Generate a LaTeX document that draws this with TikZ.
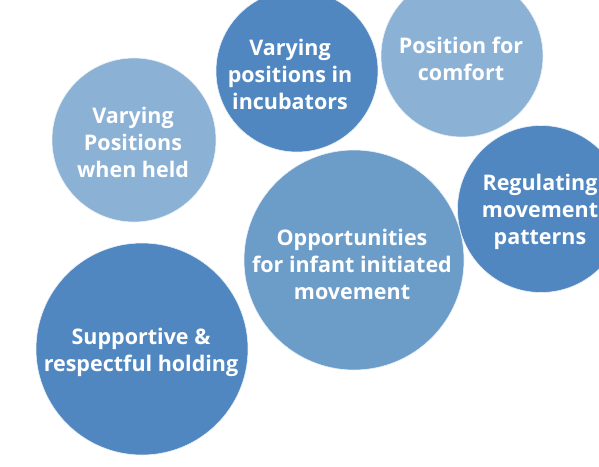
\documentclass[tikz,border=0pt]{standalone}
\usepackage{fontspec}
\setmainfont{Open Sans}
\definecolor{BubDark}{RGB}{80,135,192}
\definecolor{BubMid}{RGB}{108,157,201}
\definecolor{BubLight}{RGB}{139,177,213}

\begin{document}
\begin{tikzpicture}[x=1pt,y=-1pt]
\tikzset{
  bubble/.style={circle,inner sep=0pt,draw=white!80!BubLight,line width=0.6pt},
  bubtext/.style={text=white,font=\bfseries\fontsize{21.5}{27}\selectfont,align=center}
}
\useasboundingbox (0,0) rectangle (599,466);
\clip (0,0) rectangle (599,466);

% bubbles
\node[bubble,fill=BubDark,minimum size=162pt]  (incub)   at (297,71)  {};
\node[bubble,fill=BubLight,minimum size=162pt] (comfort) at (462,56)  {};
\node[bubble,fill=BubLight,minimum size=164pt] (held)    at (134,140) {};
\node[bubble,fill=BubDark,minimum size=167pt]  (regul)   at (541,209) {};
\node[bubble,fill=BubMid,minimum size=220pt]   (oppor)   at (354,260) {};
\node[bubble,fill=BubDark,minimum size=212pt]  (holding) at (142,349) {};

% labels
\node[bubtext] (incubT)   at (290,74)  {Varying\\positions in\\incubators};
\node[bubtext] (comfortT) at (461,59)  {Position for\\comfort};
\node[bubtext] (heldT)    at (133,142) {Varying\\Positions\\when held};
\node[bubtext] (regulT)   at (540,212) {Regulating\\movement\\patterns};
\node[bubtext] (opporT)   at (352,264) {Opportunities\\for infant initiated\\movement};
\node[bubtext] (holdingT) at (141,352) {Supportive \&\\respectful holding};

\end{tikzpicture}
\end{document}
